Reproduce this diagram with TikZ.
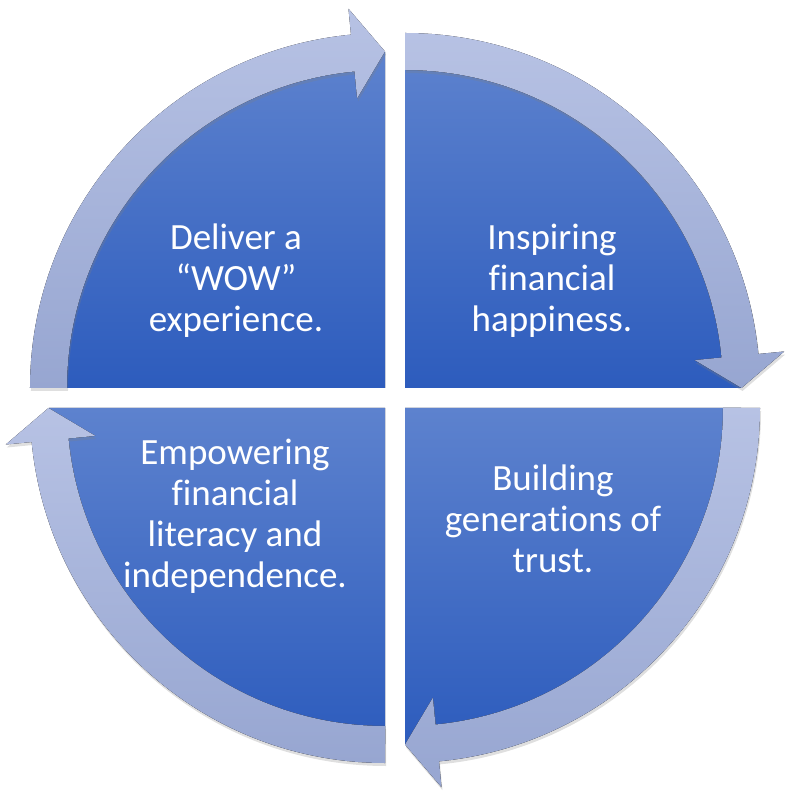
\documentclass[tikz,border=0pt]{standalone}
\usepackage{fontspec}
\setmainfont{Carlito}[Ligatures={TeX,NoCommon}]
\usetikzlibrary{calc,shadows}
\definecolor{sectortop}{HTML}{5D82CE}
\definecolor{sectorbot}{HTML}{2D5CBD}
\definecolor{ringtop}{HTML}{B7C2E4}
\definecolor{ringbot}{HTML}{97A6D1}

\begin{document}
\begin{tikzpicture}[
    x=1pt,y=1pt,
    every node/.style={font=\fontsize{37}{41}\selectfont,text=white,align=center},
    sector/.style={top color=sectortop,bottom color=sectorbot,draw=none},
    ring/.style={top color=ringtop,bottom color=ringbot,draw=none,
        drop shadow={shadow xshift=1pt,shadow yshift=-3pt,opacity=0.25}},
]
\useasboundingbox (-395,-396) rectangle (399,398);
% Quarter sectors and their curved arrows: corner x / corner y / start angle
\foreach \cx/\cy/\a in {-10/10/180, 10/10/90, 10/-10/0, -10/-10/-90} {
    \fill[sector] (\cx,\cy) -- ++(\a:336) arc[start angle=\a,delta angle=-90,radius=336] -- cycle;
    \fill[ring] ($(\cx,\cy)+(\a:355)$) arc[start angle=\a,delta angle=-84.5,radius=355]
        -- ($(\cx,\cy)+(\a-84.5:381)$) -- ($(\cx,\cy)+(\a-90:336.5)$)
        -- ($(\cx,\cy)+(\a-84.5:291)$) -- ($(\cx,\cy)+(\a-84.5:318)$)
        arc[start angle=\a-84.5,delta angle=84.5,radius=318] -- cycle;
}
% Labels
\node (deliver) at (-159,117) {Deliver a\\“WOW”\\experience.};
\node (inspire) at (157,117) {Inspiring\\financial\\happiness.};
\node (build) at (158,-121) {Building\\generations of\\trust.};
\node (empower) at (-160,-118) {Empowering\\financial\\literacy and\\independence.};
\end{tikzpicture}
\end{document}
